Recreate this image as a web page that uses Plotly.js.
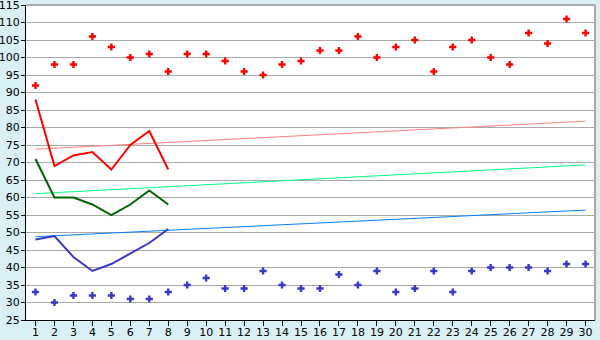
<!DOCTYPE html>
<html>
<head>
<meta charset="utf-8">
<script src="https://cdn.plot.ly/plotly-3.0.1.min.js"></script>
<style>html,body{margin:0;padding:0;background:#d9f0f7;}#chart{width:600px;height:340px;}</style>
</head>
<body>
<div id="chart"></div>
<script>
const days = Array.from({length: 30}, (_, i) => i + 1);
const lineDays = [1, 2, 3, 4, 5, 6, 7, 8];
const redPoints = [92, 98, 98, 106, 103, 100, 101, 96, 101, 101, 99, 96, 95, 98, 99, 102, 102, 106, 100, 103, 105, 96, 103, 105, 100, 98, 107, 104, 111, 107];
const bluePoints = [33, 30, 32, 32, 32, 31, 31, 33, 35, 37, 34, 34, 39, 35, 34, 34, 38, 35, 39, 33, 34, 39, 33, 39, 40, 40, 40, 39, 41, 41];
const redLine = [88, 69, 72, 73, 68, 75, 79, 68];
const greenLine = [71, 60, 60, 58, 55, 58, 62, 58];
const blueLine = [48, 49, 43, 39, 41, 44, 47, 51];
const trendDays = [1, 30];
const redTrend = [73.8, 81.8];
const greenTrend = [61.1, 69.3];
const blueTrend = [48.8, 56.4];
const yTicks = [25, 30, 35, 40, 45, 50, 55, 60, 65, 70, 75, 80, 85, 90, 95, 100, 105, 110, 115];

const traces = [
  {x: trendDays, y: redTrend, mode: 'lines', line: {color: '#ff8080', width: 1}},
  {x: trendDays, y: greenTrend, mode: 'lines', line: {color: '#00ff80', width: 1}},
  {x: trendDays, y: blueTrend, mode: 'lines', line: {color: '#0080ff', width: 1}},
  {x: lineDays, y: redLine, mode: 'lines', line: {color: '#ff0000', width: 2}},
  {x: lineDays, y: greenLine, mode: 'lines', line: {color: '#006400', width: 2}},
  {x: lineDays, y: blueLine, mode: 'lines', line: {color: '#3838c8', width: 2}},
  {x: days, y: redPoints, mode: 'markers', marker: {symbol: 'cross', size: 6, color: '#ff0000'}},
  {x: days, y: bluePoints, mode: 'markers', marker: {symbol: 'cross', size: 6, color: '#3838c8'}}
];

const layout = {
  width: 600, height: 340,
  margin: {l: 26, r: 5, t: 5, b: 20, pad: 0},
  paper_bgcolor: '#d9f0f7',
  plot_bgcolor: '#ffffff',
  showlegend: false,
  font: {family: 'DejaVu Sans, Verdana, sans-serif', size: 11, color: '#000000'},
  xaxis: {
    range: [0.5, 30.5], tickmode: 'linear', tick0: 1, dtick: 1,
    showgrid: false, zeroline: false,
    showline: true, linecolor: '#000000', linewidth: 1,
    ticks: 'outside', ticklen: 5, tickcolor: '#000000',
    ticklabelstandoff: -3, ticklabeloverflow: 'allow',
    mirror: false, fixedrange: true
  },
  yaxis: {
    range: [25, 115], tickmode: 'array', tickvals: yTicks, ticktext: yTicks.map(String),
    showgrid: true, gridcolor: '#aaaaaa', gridwidth: 1, zeroline: false,
    showline: true, linecolor: '#000000', linewidth: 1,
    ticks: 'outside', ticklen: 4, tickcolor: '#000000',
    ticklabelstandoff: -1, ticklabeloverflow: 'allow',
    fixedrange: true
  },
  shapes: [
    {type: 'line', xref: 'paper', yref: 'paper', x0: 1, x1: 1, y0: 0, y1: 1, line: {color: '#aaaaaa', width: 2}},
    {type: 'line', xref: 'paper', yref: 'paper', x0: 0, x1: 1, y0: 1, y1: 1, line: {color: '#aaaaaa', width: 2}}
  ]
};

Plotly.newPlot('chart', traces, layout, {staticPlot: true, displayModeBar: false});
</script>
</body>
</html>
